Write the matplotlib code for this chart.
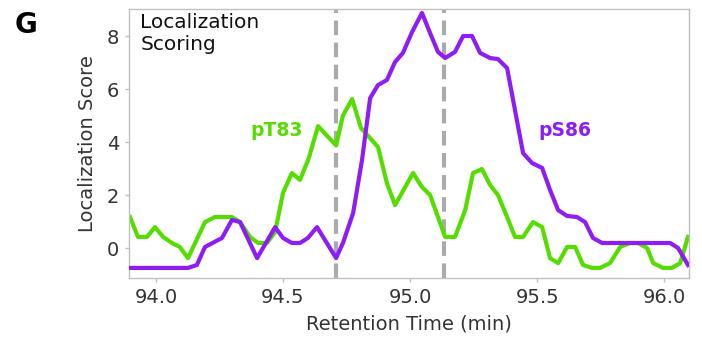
import matplotlib
matplotlib.use("Agg")
import matplotlib.pyplot as plt

# retention time (min) and localization scores
ps86_time = [93.894, 94.126, 94.161, 94.193, 94.260, 94.299, 94.331, 94.398, 94.469, 94.500,
             94.535, 94.567, 94.598, 94.634, 94.709, 94.736, 94.776, 94.811, 94.843, 94.874,
             94.909, 94.941, 94.972, 95.008, 95.047, 95.079, 95.110, 95.138, 95.177, 95.209,
             95.244, 95.276, 95.315, 95.346, 95.382, 95.413, 95.445, 95.480, 95.520, 95.551,
             95.583, 95.618, 95.657, 95.689, 95.720, 95.756, 96.024, 96.055, 96.094]
ps86_score = [-0.75, -0.75, -0.64, 0.04, 0.38, 1.06, 0.98, -0.38, 0.79, 0.38,
              0.19, 0.19, 0.38, 0.79, -0.38, 0.19, 1.32, 3.32, 5.66, 6.15,
              6.34, 7.02, 7.36, 8.15, 8.87, 8.11, 7.40, 7.17, 7.40, 8.00,
              8.00, 7.36, 7.17, 7.13, 6.79, 5.21, 3.58, 3.21, 3.02, 2.19,
              1.43, 1.21, 1.17, 0.98, 0.38, 0.19, 0.19, 0.00, -0.64]

pt83_time = [93.898, 93.929, 93.965, 93.996, 94.028, 94.063, 94.094, 94.126, 94.193, 94.232,
             94.299, 94.331, 94.370, 94.402, 94.437, 94.469, 94.500, 94.535, 94.567, 94.602,
             94.638, 94.709, 94.736, 94.772, 94.807, 94.874, 94.909, 94.941, 95.012, 95.047,
             95.079, 95.138, 95.177, 95.217, 95.248, 95.283, 95.315, 95.346, 95.382, 95.413,
             95.445, 95.484, 95.520, 95.551, 95.583, 95.618, 95.650, 95.681, 95.717, 95.748,
             95.787, 95.827, 95.866, 95.898, 95.933, 95.957, 95.996, 96.031, 96.063, 96.094]
pt83_score = [1.17, 0.42, 0.42, 0.79, 0.42, 0.19, 0.04, -0.38, 0.98, 1.17,
              1.17, 0.98, 0.42, 0.19, 0.19, 0.60, 2.08, 2.83, 2.57, 3.40,
              4.60, 3.87, 5.00, 5.62, 4.53, 3.81, 2.45, 1.62, 2.83, 2.30,
              2.00, 0.42, 0.42, 1.43, 2.83, 2.98, 2.38, 2.00, 1.17, 0.42,
              0.42, 0.98, 0.79, -0.38, -0.57, 0.04, 0.04, -0.64, -0.75, -0.75,
              -0.57, 0.04, 0.19, 0.19, 0.00, -0.57, -0.75, -0.75, -0.57, 0.42]

site_times = [94.709, 95.135]
x_ticks = [94.0, 94.5, 95.0, 95.5, 96.0]
y_ticks = [0, 2, 4, 6, 8]

green = "#55dd00"
purple = "#8e1cf5"
grey = "#333333"

fig = plt.figure(figsize=(7.02, 3.41), dpi=100)
ax = fig.add_axes([0.1838, 0.1848, 0.7977, 0.7889])

for t in site_times:
    ax.axvline(t, color="#aaaaaa", lw=3, dashes=(3.5, 1.8), zorder=1)

ax.plot(pt83_time, pt83_score, color=green, lw=3, solid_joinstyle="round", zorder=2)
ax.plot(ps86_time, ps86_score, color=purple, lw=3, solid_joinstyle="round", zorder=3)

ax.set_xlim(93.894, 96.098)
ax.set_ylim(-1.13, 9.02)
ax.set_xticks(x_ticks)
ax.set_xticklabels([f"{t:.1f}" for t in x_ticks])
ax.set_yticks(y_ticks)

for s in ax.spines.values():
    s.set_color("#c0c0c0")
    s.set_linewidth(1)
ax.tick_params(direction="out", length=3, width=1, color="#c0c0c0",
               labelsize=14, labelcolor=grey, pad=4)

ax.set_xlabel("Retention Time (min)", fontsize=14, color=grey, labelpad=5.5)
ax.set_ylabel("Localization Score", fontsize=14, color=grey)
ax.yaxis.set_label_coords(-0.058, 0.5)

ax.text(0.02, 0.985, "Localization\nScoring", transform=ax.transAxes,
        ha="left", va="top", fontsize=14.5, color="#111111")
ax.text(94.476, 4.45, "pT83", color=green, fontsize=13.5, fontweight="bold",
        ha="center", va="center")
ax.text(95.61, 4.45, "pS86", color=purple, fontsize=13.5, fontweight="bold",
        ha="center", va="center")

fig.text(0.021, 0.927, "G", fontsize=20, fontweight="bold", ha="left", va="center")

fig.savefig("out.png", dpi=100)
